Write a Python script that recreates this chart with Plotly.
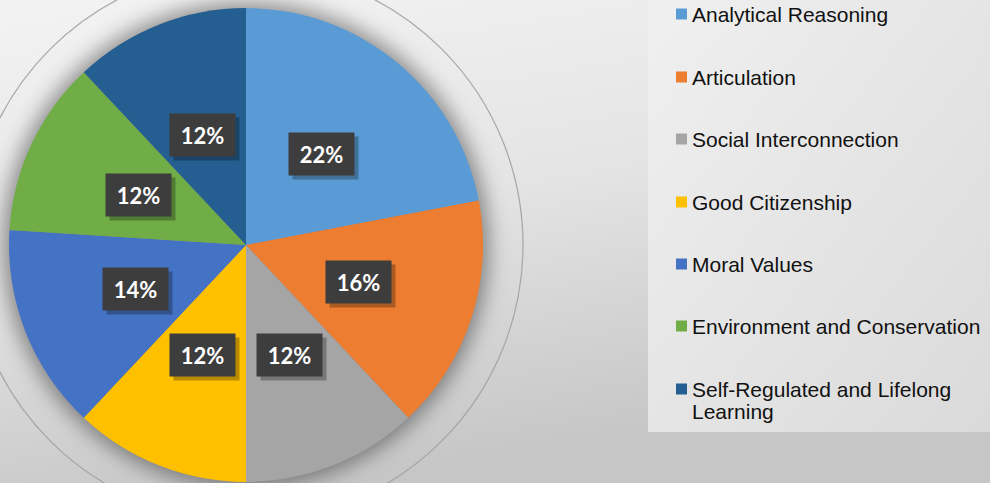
import base64, math
import plotly.graph_objects as go

categories = ["Analytical Reasoning", "Articulation", "Social Interconnection",
              "Good Citizenship", "Moral Values", "Environment and Conservation",
              "Self-Regulated and Lifelong<br>Learning"]
values = [22, 16, 12, 12, 14, 12, 12]
colors = ["#5B9BD5", "#ED7D31", "#A5A5A5", "#FFC000", "#4472C4", "#70AD47", "#255E91"]

W, H = 990, 483
CX, CY, R = 246, 245, 237

# background (gradient, pie shadow, legend panel)
svg = f'''<svg xmlns="http://www.w3.org/2000/svg" width="{W}" height="{H}" viewBox="0 0 {W} {H}">
<defs>
<linearGradient id="bg" x1="0" y1="0" x2="0.35" y2="1">
<stop offset="0" stop-color="#f3f3f3"/><stop offset="0.5" stop-color="#e4e4e4"/><stop offset="1" stop-color="#c6c6c6"/>
</linearGradient>
<linearGradient id="lg" x1="0" y1="0" x2="1" y2="1">
<stop offset="0" stop-color="#f0f0f0"/><stop offset="1" stop-color="#dadada"/>
</linearGradient>
<filter id="bl" x="-20%" y="-20%" width="140%" height="140%"><feGaussianBlur stdDeviation="10"/></filter>
</defs>
<rect x="0" y="0" width="{W}" height="{H}" fill="url(#bg)"/>
<circle cx="{CX}" cy="{CY}" r="{R+6}" fill="#000" fill-opacity="0.4" filter="url(#bl)"/>
<circle cx="{CX}" cy="{CY}" r="277" fill="none" stroke="#a0a0a0" stroke-opacity="0.9" stroke-width="1.2"/>
<rect x="648" y="0" width="{W-648}" height="432" fill="url(#lg)"/>
</svg>'''
src = "data:image/svg+xml;base64," + base64.b64encode(svg.encode()).decode()

fig = go.Figure(go.Pie(
    labels=categories, values=values, sort=False, direction="clockwise", rotation=0,
    marker=dict(colors=colors, line=dict(width=0)), textinfo="none",
    domain=dict(x=[(CX - R) / W, (CX + R) / W], y=[1 - (CY + R) / H, 1 - (CY - R) / H]),
    showlegend=False, hoverinfo="label+percent"))

annotations = []
shapes = []
total = sum(values)
cum = 0
for v in values:
    mid = (cum + v / 2) / total * 2 * math.pi
    cum += v
    px = CX + 0.5 * R * math.sin(mid)
    py = CY - 0.5 * R * math.cos(mid)
    pct = f"{round(v / total * 100)}%"
    # shadow
    annotations.append(dict(x=(px + 4) / W, y=1 - (py + 4) / H, xref="paper", yref="paper",
                            xanchor="center", yanchor="middle",
                            text=" ", showarrow=False, width=63, height=40,
                            bgcolor="rgba(0,0,0,0.28)", font=dict(size=22)))
    annotations.append(dict(x=px / W, y=1 - py / H, xref="paper", yref="paper",
                            xanchor="center", yanchor="middle",
                            text=f"<b>{pct}</b>", showarrow=False, width=63, height=40,
                            bgcolor="#3d3d3d", font=dict(family="Lato", size=22, color="white")))

# manual legend
ys = [14, 77, 139, 202, 264, 326, 389]
for cat, col, y in zip(categories, colors, ys):
    shapes.append(dict(type="rect", xref="paper", yref="paper",
                       x0=676 / W, x1=687 / W, y0=1 - (y + 5.5) / H, y1=1 - (y - 5.5) / H,
                       fillcolor=col, line=dict(width=0)))
    for k, line in enumerate(cat.split("<br>")):
        annotations.append(dict(x=690 / W, y=1 - (y + 22 * k) / H, xref="paper", yref="paper",
                                xanchor="left", yanchor="middle", align="left", showarrow=False,
                                text=line, font=dict(family="Liberation Sans", size=21, color="#111111")))

fig.update_layout(
    width=W, height=H, margin=dict(l=0, r=0, t=0, b=0),
    paper_bgcolor="#e6e6e6", plot_bgcolor="rgba(0,0,0,0)",
    images=[dict(source=src, xref="paper", yref="paper", x=0, y=1, sizex=1, sizey=1,
                 xanchor="left", yanchor="top", sizing="stretch", layer="below")],
    shapes=shapes, annotations=annotations)

fig.write_html("out.html", config={"displayModeBar": False},
               post_script="document.body.style.margin='0';document.body.style.overflow='hidden';")
